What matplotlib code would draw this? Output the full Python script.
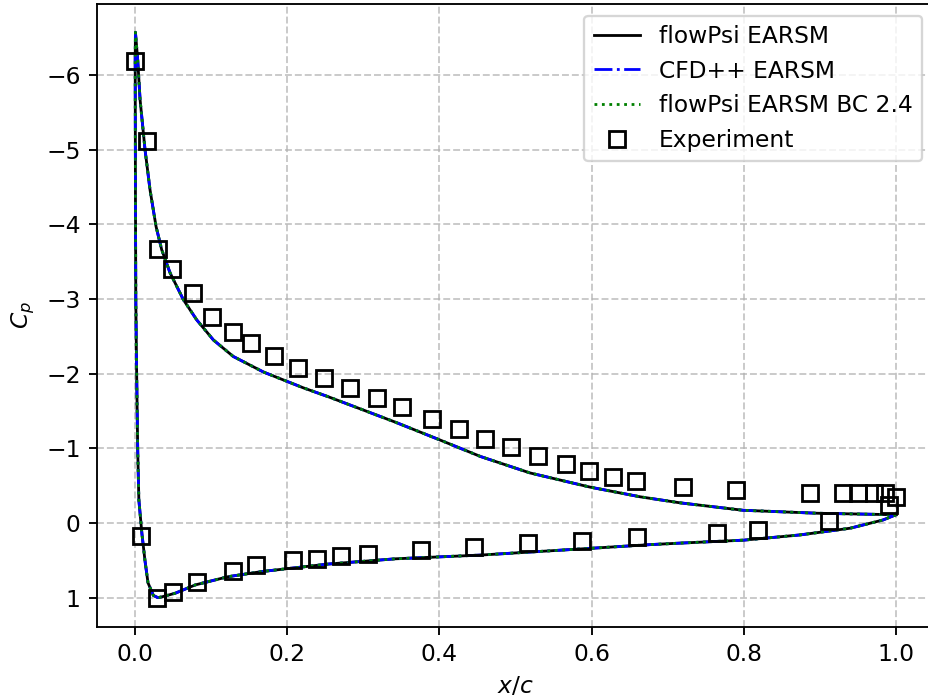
import numpy as np
import matplotlib
matplotlib.use('Agg')
import matplotlib.pyplot as plt

# surface pressure along the airfoil, trailing edge -> lower side -> leading edge -> upper side -> trailing edge
x_surf = [1.000, 0.983, 0.940, 0.874, 0.800, 0.716, 0.677, 0.598, 0.454, 0.342,
          0.254, 0.167, 0.122, 0.079, 0.053, 0.035, 0.030, 0.024, 0.017, 0.013,
          0.009, 0.005, 0.0035, 0.002, 0.001, 0.0005, 0.0002,
          0.0005, 0.0015, 0.0035, 0.0066, 0.0131, 0.0197, 0.0276, 0.035, 0.046, 0.0635,
          0.081, 0.103, 0.129, 0.169, 0.221, 0.254, 0.298, 0.342, 0.401,
          0.454, 0.519, 0.598, 0.664, 0.716, 0.799, 0.897, 0.950, 1.000]
cp_surf = [-0.11, -0.04, 0.07, 0.16, 0.23, 0.27, 0.29, 0.34, 0.43, 0.48,
           0.55, 0.65, 0.72, 0.83, 0.94, 0.99, 1.00, 0.97, 0.80, 0.50,
           0.14, -0.31, -0.98, -2.09, -2.99, -4.50, -6.20,
           -6.57, -6.45, -6.20, -5.67, -5.00, -4.46, -3.97, -3.66, -3.35, -2.99,
           -2.72, -2.45, -2.23, -2.02, -1.81, -1.69, -1.52, -1.35, -1.11,
           -0.89, -0.67, -0.48, -0.35, -0.27, -0.17, -0.13, -0.12, -0.11]

# all three computations lie on top of each other
x_flowpsi, cp_flowpsi = x_surf, cp_surf
x_cfdpp, cp_cfdpp = x_surf, cp_surf
x_bc24, cp_bc24 = x_surf, cp_surf

# measured pressure taps
x_exp_upper = [0.000, 0.016, 0.030, 0.049, 0.076, 0.101, 0.129, 0.152, 0.183, 0.214,
               0.248, 0.283, 0.318, 0.351, 0.390, 0.426, 0.460, 0.494, 0.530, 0.567,
               0.597, 0.628, 0.659, 0.720, 0.790, 0.887, 0.931, 0.950, 0.971, 0.986, 1.000]
cp_exp_upper = [-6.19, -5.11, -3.67, -3.40, -3.08, -2.76, -2.56, -2.41, -2.23, -2.08,
                -1.94, -1.81, -1.68, -1.55, -1.39, -1.26, -1.13, -1.02, -0.90, -0.79,
                -0.70, -0.62, -0.56, -0.48, -0.44, -0.40, -0.40, -0.40, -0.40, -0.40, -0.35]
x_exp_lower = [0.008, 0.029, 0.050, 0.082, 0.129, 0.159, 0.208, 0.239, 0.271, 0.306,
               0.376, 0.446, 0.517, 0.588, 0.660, 0.765, 0.819, 0.912, 0.991]
cp_exp_lower = [0.17, 1.01, 0.92, 0.79, 0.64, 0.56, 0.50, 0.48, 0.44, 0.42,
                0.36, 0.32, 0.27, 0.24, 0.19, 0.13, 0.09, -0.03, -0.24]

x_exp = x_exp_upper + x_exp_lower
cp_exp = cp_exp_upper + cp_exp_lower

dpi = 168
fig = plt.figure(figsize=(928 / dpi, 699 / dpi), dpi=dpi)
ax = fig.add_axes([97 / 928, 72.3 / 699, 837 / 928, 622.7 / 699])

ax.plot(x_flowpsi, cp_flowpsi, 'k-', lw=1.2, label='flowPsi EARSM')
ax.plot(x_cfdpp, cp_cfdpp, 'b-.', lw=1.2, label='CFD++ EARSM')
ax.plot(x_bc24, cp_bc24, 'g:', lw=1.2, label='flowPsi EARSM BC 2.4')
ax.plot(x_exp, cp_exp, 'ks', mfc='none', ms=6.5, mew=1.2, label='Experiment')

ax.invert_yaxis()
ax.set_xlabel('$x/c$')
ax.set_ylabel('$C_p$')
ax.legend(loc='upper right')
ax.grid(linestyle='--', alpha=0.7)

fig.savefig('out.png', dpi=dpi)
